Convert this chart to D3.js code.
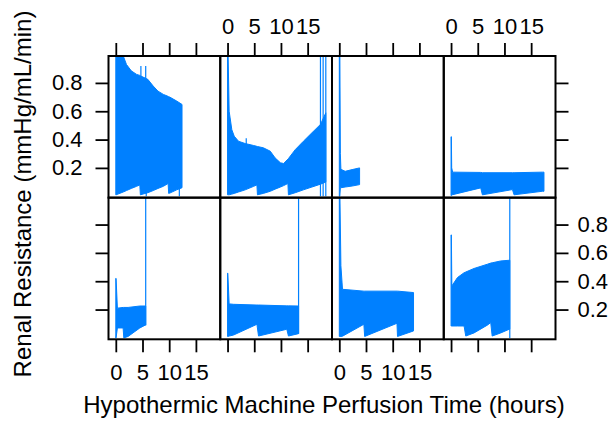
<!DOCTYPE html>
<html><head><meta charset="utf-8">
<script src="https://cdn.jsdelivr.net/npm/d3@7"></script>
<style>
body{margin:0;background:#fff}
svg{display:block}
text{font-family:"Liberation Sans",Arial,Helvetica,sans-serif}
</style>
</head><body><svg id="c" width="613" height="425"></svg>
<script>
// ---------------- data ----------------
const xTicks = [0, 5, 10, 15];
const yTicks = [0.2, 0.4, 0.6, 0.8];
const xTitle = "Hypothermic Machine Perfusion Time (hours)";
const yTitle = "Renal Resistance (mmHg/mL/min)";

// Panel 1 (top row, column 1)
const hours1 = [0, 0.05, 1.4, 2.0, 2.9, 3.9, 4.5, 4.6, 6.0, 7.0, 7.9, 8.9, 9.8, 9.9, 10.1, 11.4, 12.4];
const upper1 = [1.05, 1.05, 0.99, 0.93, 0.885, 0.86, 0.853, 0.85, 0.825, 0.778, 0.742, 0.719, 0.705, 0.703, 0.70, 0.672, 0.648];
const lower1 = [0.01, 0.01, 0.03, 0.04, 0.055, 0.07, 0.08, 0.01, 0.025, 0.04, 0.055, 0.07, 0.09, 0.02, 0.022, 0.045, 0.06];
const spikes1 = [[4.7, 0.5, 0.92], [5.6, 0.5, 0.92], [5.7, 0.0, 0.4], [11.9, 0.0, 0.3]];

// Panel 2 (top row, column 2)
const hours2 = [0, 0.08, 0.3, 0.8, 1.25, 2.06, 3.3, 4.9, 5.5, 5.6, 6.7, 8.0, 8.9, 9.9, 10.5, 11.3, 11.4, 12.7, 14.2, 15.8, 17.4, 18.4];
const upper2 = [1.05, 1.05, 0.6, 0.47, 0.424, 0.388, 0.372, 0.358, 0.352, 0.351, 0.342, 0.318, 0.271, 0.236, 0.231, 0.262, 0.266, 0.33, 0.388, 0.448, 0.507, 0.589];
const lower2 = [0.01, 0.01, 0.01, 0.015, 0.02, 0.03, 0.045, 0.07, 0.08, 0.01, 0.02, 0.035, 0.05, 0.065, 0.075, 0.09, 0.01, 0.025, 0.045, 0.065, 0.085, 0.1];
const spikes2 = [[3.5, 0.3, 0.41], [17.4, 0.0, 1.05], [17.9, 0.0, 1.05], [18.4, 0.0, 1.05]];

// Panel 3 (top row, column 3)
const hours3 = [0, 0.1, 0.2, 0.3, 1.1, 2.4, 3.8];
const upper3 = [1.05, 1.05, 0.3, 0.19, 0.176, 0.188, 0.2];
const lower3 = [0.0, 0.0, 0.06, 0.06, 0.065, 0.072, 0.082];
const spikes3 = [];

// Panel 4 (top row, column 4)
const hours4 = [0, 0.06, 0.12, 0.3, 5.56, 5.87, 11.5, 11.8, 17.1, 17.4];
const upper4 = [0.42, 0.42, 0.2, 0.17, 0.168, 0.166, 0.166, 0.166, 0.17, 0.17];
const lower4 = [0.005, 0.005, 0.01, 0.011, 0.059, 0.01, 0.047, 0.01, 0.035, 0.035];
const spikes4 = [];

// Panel 5 (bottom row, column 1)
const hours5 = [0, 0.05, 0.3, 1.37, 1.5, 2.3, 4.5, 5.5, 5.6];
const upper5 = [0.42, 0.42, 0.21, 0.215, 0.215, 0.215, 0.225, 0.225, 0.225];
const lower5 = [0.0, 0.0, 0.07, 0.07, 0.0, 0.01, 0.07, 0.09, 0.09];
const spikes5 = [[5.6, 0.09, 1.05]];

// Panel 6 (bottom row, column 2)
const hours6 = [0, 0.05, 0.3, 1.12, 5.5, 5.8, 11.1, 11.4, 13.3];
const upper6 = [0.457, 0.457, 0.24, 0.237, 0.232, 0.232, 0.226, 0.226, 0.225];
const lower6 = [0.01, 0.01, 0.013, 0.02, 0.096, 0.013, 0.061, 0.013, 0.03];
const spikes6 = [[13.3, 0.03, 1.05]];

// Panel 7 (bottom row, column 3)
const hours7 = [0, 0.1, 0.3, 0.6, 4.6, 4.75, 10.8, 10.9, 13.9];
const upper7 = [1.05, 1.05, 0.51, 0.343, 0.33, 0.33, 0.33, 0.33, 0.32];
const lower7 = [0.01, 0.01, 0.01, 0.012, 0.096, 0.01, 0.103, 0.01, 0.049];
const spikes7 = [];

// Panel 8 (bottom row, column 4)
const hours8 = [0, 0.06, 0.15, 1.2, 2.44, 2.75, 4.3, 6.8, 7.43, 7.7, 9.3, 10.9, 11.0];
const upper8 = [0.727, 0.727, 0.367, 0.426, 0.46, 0.465, 0.49, 0.52, 0.528, 0.53, 0.543, 0.548, 0.548];
const lower8 = [0.084, 0.084, 0.084, 0.084, 0.084, 0.013, 0.035, 0.09, 0.108, 0.013, 0.035, 0.061, 0.061];
const spikes8 = [[11.0, 0.0, 1.05]];

const panels = [
  {row: 0, col: 0, hours: hours1, upper: upper1, lower: lower1, spikes: spikes1},
  {row: 0, col: 1, hours: hours2, upper: upper2, lower: lower2, spikes: spikes2},
  {row: 0, col: 2, hours: hours3, upper: upper3, lower: lower3, spikes: spikes3},
  {row: 0, col: 3, hours: hours4, upper: upper4, lower: lower4, spikes: spikes4},
  {row: 1, col: 0, hours: hours5, upper: upper5, lower: lower5, spikes: spikes5},
  {row: 1, col: 1, hours: hours6, upper: upper6, lower: lower6, spikes: spikes6},
  {row: 1, col: 2, hours: hours7, upper: upper7, lower: lower7, spikes: spikes7},
  {row: 1, col: 3, hours: hours8, upper: upper8, lower: lower8, spikes: spikes8}
];

// ---------------- layout ----------------
const L = 108.5, R = 555.5, T = 56, B = 339.3;
const nCol = 4, nRow = 2;
const pw = (R - L) / nCol, ph = (B - T) / nRow;
const xDomain = [-1.367, 19.56], yDomain = [-0.01, 0.99];
const blue = "#0080ff";
const tickFont = 22, titleFont = 24, tickLen = 13;

const svg = d3.select("#c");
const xScale = c => d3.scaleLinear().domain(xDomain).range([L + c * pw, L + (c + 1) * pw]);
const yScale = r => d3.scaleLinear().domain(yDomain).range([T + (r + 1) * ph, T + r * ph]);

const defs = svg.append("defs");

panels.forEach((p, i) => {
  const xs = xScale(p.col), ys = yScale(p.row);
  const x0 = L + p.col * pw, y0 = T + p.row * ph;
  defs.append("clipPath").attr("id", "clip" + i)
    .append("rect").attr("x", x0).attr("y", y0).attr("width", pw).attr("height", ph);
  const g = svg.append("g").attr("clip-path", `url(#clip${i})`);
  const pts = p.hours.map((h, k) => ({h, hi: p.upper[k], lo: p.lower[k]}));
  const area = d3.area().x(d => xs(d.h)).y0(d => ys(d.lo)).y1(d => ys(d.hi));
  g.append("path").datum(pts).attr("d", area)
    .attr("fill", blue).attr("stroke", blue).attr("stroke-width", 1);
  g.selectAll("line.sp").data(p.spikes).enter().append("line")
    .attr("x1", d => xs(d[0])).attr("x2", d => xs(d[0]))
    .attr("y1", d => ys(d[1])).attr("y2", d => ys(d[2]))
    .attr("stroke", blue).attr("stroke-width", 1.2);
});

// axes
function styleAxis(g) {
  g.select(".domain").remove();
  g.selectAll(".tick line").attr("stroke", "#000").attr("stroke-width", 1.8);
  g.selectAll(".tick text").attr("fill", "#000").style("font-size", tickFont + "px")
    .style("font-family", '"Liberation Sans",Arial,Helvetica,sans-serif');
}
const fmtX = d3.format("d"), fmtY = d3.format(".1f");
for (let c = 0; c < nCol; c++) {
  const xs = xScale(c);
  svg.append("g").attr("transform", `translate(0,${T})`)
    .call(d3.axisTop(xs).tickValues(xTicks).tickSize(tickLen).tickSizeOuter(0).tickPadding(9)
      .tickFormat(c % 2 === 1 ? fmtX : () => ""))
    .call(styleAxis);
  svg.append("g").attr("transform", `translate(0,${B})`)
    .call(d3.axisBottom(xs).tickValues(xTicks).tickSize(tickLen).tickSizeOuter(0).tickPadding(12)
      .tickFormat(c % 2 === 0 ? fmtX : () => ""))
    .call(styleAxis);
}
for (let r = 0; r < nRow; r++) {
  const ys = yScale(r);
  svg.append("g").attr("transform", `translate(${L},0)`)
    .call(d3.axisLeft(ys).tickValues(yTicks).tickSize(tickLen).tickSizeOuter(0).tickPadding(13)
      .tickFormat(r === 0 ? fmtY : () => ""))
    .call(styleAxis);
  svg.append("g").attr("transform", `translate(${R},0)`)
    .call(d3.axisRight(ys).tickValues(yTicks).tickSize(tickLen).tickSizeOuter(0).tickPadding(9)
      .tickFormat(r === 1 ? fmtY : () => ""))
    .call(styleAxis);
}

// panel frames
panels.forEach(p => {
  svg.append("rect").attr("x", L + p.col * pw).attr("y", T + p.row * ph)
    .attr("width", pw).attr("height", ph)
    .attr("fill", "none").attr("stroke", "#000").attr("stroke-width", 2);
});

// titles
svg.append("text").attr("x", 324).attr("y", 412.5).attr("text-anchor", "middle")
  .style("font-size", titleFont + "px").attr("fill", "#000").text(xTitle);
svg.append("text").attr("transform", "translate(31,194) rotate(-90)").attr("text-anchor", "middle")
  .style("font-size", titleFont + "px").attr("fill", "#000").text(yTitle);
</script>
</body></html>
